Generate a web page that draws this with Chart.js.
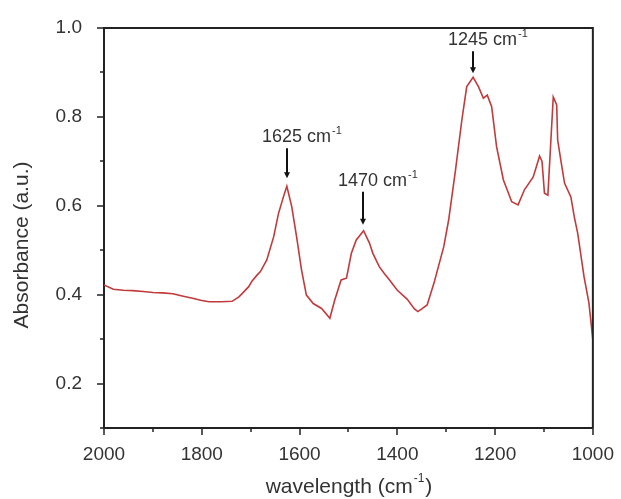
<!DOCTYPE html>
<html>
<head>
<meta charset="utf-8">
<script src="https://cdn.jsdelivr.net/npm/chart.js@4"></script>
<style>
  html, body { margin: 0; padding: 0; background: #fff; }
  #wrap { width: 621px; height: 499px; position: relative; }
</style>
</head>
<body>
<div id="wrap"><canvas id="chart-ftir"></canvas></div>
<script>
// spectrum (wavenumber in cm-1, absorbance)
const waveNumbers = [
  2000, 1981, 1960, 1941, 1920, 1900, 1880, 1859, 1840, 1819, 1800, 1785, 1760, 1738,
  1724, 1717, 1704, 1697, 1687, 1680, 1667, 1653, 1643, 1633, 1626, 1616, 1606, 1596,
  1586, 1572, 1555, 1538, 1528, 1515, 1504, 1494, 1484, 1469, 1457, 1450, 1437, 1427,
  1416, 1400, 1380, 1365, 1358, 1350, 1339, 1325, 1305, 1295, 1281, 1268, 1258, 1245,
  1234, 1224, 1216, 1207, 1197, 1183, 1166, 1153, 1140, 1122, 1115, 1109, 1104, 1099,
  1092, 1087, 1081, 1074, 1072, 1065, 1058, 1045, 1038, 1031, 1018, 1008, 1000
];
const absorbance = [
  0.422, 0.412, 0.410, 0.409, 0.407, 0.405, 0.404, 0.402, 0.397, 0.392, 0.387, 0.384, 0.384, 0.385,
  0.395, 0.403, 0.418, 0.431, 0.444, 0.452, 0.478, 0.530, 0.583, 0.620, 0.644, 0.598, 0.530, 0.456,
  0.399, 0.380, 0.369, 0.347, 0.388, 0.433, 0.437, 0.493, 0.523, 0.544, 0.516, 0.493, 0.463, 0.448,
  0.433, 0.410, 0.390, 0.368, 0.362, 0.368, 0.377, 0.426, 0.508, 0.568, 0.680, 0.793, 0.868, 0.889,
  0.868, 0.842, 0.849, 0.823, 0.733, 0.658, 0.609, 0.602, 0.636, 0.665, 0.690, 0.712, 0.700, 0.628,
  0.624, 0.725, 0.845, 0.827, 0.748, 0.699, 0.651, 0.620, 0.575, 0.538, 0.440, 0.381, 0.298
];

// labelled peaks
const peakWaves = [1625, 1470, 1245];
const peakValues = [0.644, 0.544, 0.889];
const peakLabels = ["1625 cm", "1470 cm", "1245 cm"];

// axis ticks
const xTickValues = [2000, 1800, 1600, 1400, 1200, 1000];
const yTickValues = [0.2, 0.4, 0.6, 0.8, 1.0];

const FONT = "'Liberation Sans', Arial, sans-serif";
const TEXT = "#333333";
const AXIS = "#222222";
const arrowLen = [30, 33, 22];
const arrowGap = [8, 6, 4];

const spectrumPoints = waveNumbers.map((w, i) => ({ x: w, y: absorbance[i] }));

const decorPlugin = {
  id: "decor",
  afterDraw(chart) {
    const ctx = chart.ctx;
    const area = chart.chartArea;
    const xs = chart.scales.x;
    const ys = chart.scales.y;
    ctx.save();

    // frame on top and right
    ctx.strokeStyle = AXIS;
    ctx.lineWidth = 2;
    ctx.beginPath();
    ctx.moveTo(area.left, area.top);
    ctx.lineTo(area.right, area.top);
    ctx.lineTo(area.right, area.bottom);
    ctx.stroke();

    // major / minor tick marks, pointing outward
    ctx.lineWidth = 1.5;
    ctx.beginPath();
    for (let w = 1000; w <= 2000; w += 100) {
      const px = Math.round(xs.getPixelForValue(w));
      const len = xTickValues.includes(w) ? 7 : 4;
      ctx.moveTo(px, area.bottom);
      ctx.lineTo(px, area.bottom + len);
    }
    for (let k = 1; k <= 10; k++) {
      const v = k / 10;
      const py = Math.round(ys.getPixelForValue(v));
      const len = k % 2 === 0 ? 7 : 4;
      ctx.moveTo(area.left, py);
      ctx.lineTo(area.left - len, py);
    }
    ctx.stroke();

    // peak annotations
    peakWaves.forEach((w, i) => {
      const px = Math.round(xs.getPixelForValue(w));
      const py = ys.getPixelForValue(peakValues[i]);
      const bottom = py - arrowGap[i];
      const top = bottom - arrowLen[i];
      ctx.strokeStyle = "#111";
      ctx.fillStyle = "#111";
      ctx.lineWidth = 2;
      ctx.beginPath();
      ctx.moveTo(px, top);
      ctx.lineTo(px, bottom - 4);
      ctx.stroke();
      ctx.beginPath();
      ctx.moveTo(px - 3, bottom - 6);
      ctx.lineTo(px + 3, bottom - 6);
      ctx.lineTo(px, bottom);
      ctx.closePath();
      ctx.fill();

      ctx.fillStyle = TEXT;
      ctx.font = "18px " + FONT;
      ctx.textAlign = "left";
      ctx.textBaseline = "alphabetic";
      const left = px - 25;
      const base = top - 6;
      ctx.fillText(peakLabels[i], left, base);
      const wMain = ctx.measureText(peakLabels[i]).width;
      ctx.font = "11px " + FONT;
      ctx.fillText("-1", left + wMain + 1, base - 8);
    });

    // axis titles
    ctx.fillStyle = TEXT;
    ctx.font = "21px " + FONT;
    ctx.textBaseline = "middle";
    ctx.textAlign = "center";
    ctx.save();
    ctx.translate(22, 245);
    ctx.rotate(-Math.PI / 2);
    ctx.fillText("Absorbance (a.u.)", 0, 0);
    ctx.restore();

    const t1 = "wavelength (cm";
    const t2 = "-1";
    const t3 = ")";
    ctx.font = "21px " + FONT;
    const w1 = ctx.measureText(t1).width;
    const w3 = ctx.measureText(t3).width;
    ctx.font = "12px " + FONT;
    const w2 = ctx.measureText(t2).width;
    let x0 = 349 - (w1 + w2 + w3 + 2) / 2;
    ctx.textAlign = "left";
    ctx.font = "21px " + FONT;
    ctx.fillText(t1, x0, 487);
    ctx.font = "12px " + FONT;
    ctx.fillText(t2, x0 + w1 + 1, 479);
    ctx.font = "21px " + FONT;
    ctx.fillText(t3, x0 + w1 + w2 + 2, 487);

    ctx.restore();
  }
};

const ctx = document.getElementById("chart-ftir").getContext("2d");
const spectrumChart = new Chart(ctx, {
  type: "line",
  data: {
    datasets: [{
      label: "Absorbance",
      data: spectrumPoints,
      borderColor: "#c23a3c",
      borderWidth: 1.6,
      pointRadius: 0,
      tension: 0,
      fill: false
    }]
  },
  options: {
    responsive: true,
    maintainAspectRatio: false,
    animation: false,
    layout: { padding: { left: 0, right: 24, top: 28, bottom: 0 } },
    plugins: {
      legend: { display: false },
      tooltip: { enabled: false }
    },
    scales: {
      x: {
        type: "linear",
        reverse: true,
        min: 1000,
        max: 2000,
        grid: { display: false },
        border: { display: true, color: AXIS, width: 2 },
        afterFit: function(scale) { scale.height = 71; },
        afterBuildTicks: function(scale) {
          scale.ticks = xTickValues.map(v => ({ value: v }));
        },
        ticks: {
          color: TEXT,
          padding: 7,
          maxRotation: 0,
          autoSkip: false,
          font: { family: FONT, size: 19 },
          callback: function(value) { return String(value); }
        }
      },
      y: {
        min: 0.1,
        max: 1.0,
        grid: { display: false },
        border: { display: true, color: AXIS, width: 2 },
        afterFit: function(scale) { scale.width = 104; },
        afterBuildTicks: function(scale) {
          scale.ticks = yTickValues.map(v => ({ value: v }));
        },
        ticks: {
          color: TEXT,
          padding: 14,
          autoSkip: false,
          font: { family: FONT, size: 19 },
          callback: function(value) { return value.toFixed(1); }
        }
      }
    }
  },
  plugins: [decorPlugin]
});
</script>
</body>
</html>
